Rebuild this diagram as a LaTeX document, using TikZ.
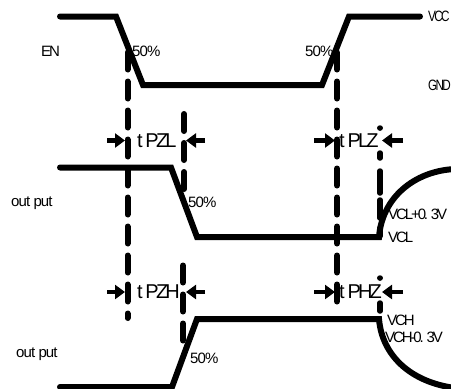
\documentclass[tikz,border=0pt]{standalone}
\usepackage{fontspec}
\usetikzlibrary{arrows.meta}
\newfontfamily\tightfont[LetterSpace=-6]{Liberation Sans}
\newfontfamily\vtightfont[LetterSpace=-14]{Liberation Sans}
\tikzset{
  wave/.style={line width=6pt,line cap=round,line join=miter},
  guide/.style={line width=6pt,line cap=round,dash pattern=on 17pt off 12pt},
  tick/.style={line width=5.5pt,line cap=round},
  timearrow/.style={line width=4.5pt,-{Triangle[length=10pt,width=14pt]}},
  small/.style={inner sep=0pt,anchor=west,font=\tightfont\fontsize{15}{15}\selectfont},
  smalltight/.style={inner sep=0pt,anchor=west,font=\vtightfont\fontsize{15}{15}\selectfont},
  edgelabel/.style={smalltight,xscale=.78},
  big/.style={inner sep=0pt,anchor=west,font=\vtightfont\fontsize{20}{20}\selectfont},
}
\begin{document}
\begin{tikzpicture}[x=1pt,y=-1pt]
\useasboundingbox (0,0) rectangle (451,389);
\clip (0,0) rectangle (451,389);
% waveforms
\draw[wave] (60,16.5) -- (116,16.5) -- (143,85) -- (322,85) -- (349,16.5) -- (420,16.5);
\draw[wave] (60,167.5) -- (171,167.5) -- (197,237) -- (379,237) .. controls (382,198) and (414,171) .. (455,169);
\draw[wave] (60,387) -- (172,387) -- (197,319) -- (379,319) .. controls (382,355) and (410,382) .. (455,388);
% guides
\draw[guide] (127.5,52.5) -- (127.5,318);
\draw[guide] (337,52.5) -- (337,303);
\draw[guide] (184,114) -- (184,190);
\draw[guide] (183,265.5) -- (183,352);
\draw[tick] (380,128) -- (380,128.1);
\draw[tick] (380,153) -- (380,158);
\draw[tick] (380,171) -- (380,193);
\draw[tick] (380,200) -- (380,218);
\draw[tick] (380,228) -- (380,236);
\draw[tick] (380,278) -- (380,278.1);
\draw[tick] (380,303) -- (380,311);
% arrows
\coordinate (a1) at (107,140.5); \coordinate (a1t) at (125,140.5);
\coordinate (a2) at (205,140.5); \coordinate (a2t) at (186,140.5);
\coordinate (a3) at (314,140.5); \coordinate (a3t) at (335,140.5);
\coordinate (a4) at (403,140.5); \coordinate (a4t) at (382,140.5);
\coordinate (a5) at (107,292); \coordinate (a5t) at (125,292);
\coordinate (a6) at (205,292); \coordinate (a6t) at (186,292);
\coordinate (a7) at (314,292); \coordinate (a7t) at (335,292);
\coordinate (a8) at (403,292); \coordinate (a8t) at (382,292);
\foreach \i in {1,...,8} \draw[timearrow] (a\i) -- (a\i t);
% labels
\node[smalltight] (en) at (41,51) {EN};
\node[small] (p1) at (132,51) {50\%};
\node[small] (p2) at (305,51) {50\%};
\node[edgelabel] (vcc) at (428,16) {VCC};
\node[edgelabel] (gnd) at (428,85) {GND};
\node[small] (o1) at (11,203) {out put};
\node[small] (p3) at (188,202) {50\%};
\node[smalltight] (vclp) at (388,214) {VCL+0. 3V};
\node[smalltight] (vcl) at (388,237) {VCL};
\node[smalltight] (vch) at (387,320) {VCH};
\node[smalltight] (vchm) at (385,337) {VCH-0. 3V};
\node[small] (o2) at (16,354) {out put};
\node[small] (p4) at (190,358) {50\%};
\node[big] (tpzl) at (137,141) {t PZL};
\node[big] (tpzh) at (137,292) {t PZH};
\node[big] (tplz) at (339,141) {t PLZ};
\node[big] (tphz) at (339,292) {t PHZ};
\end{tikzpicture}
\end{document}
